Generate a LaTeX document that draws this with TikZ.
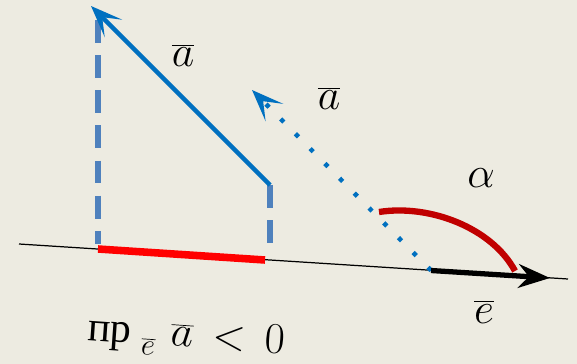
\documentclass[tikz,border=0pt]{standalone}
\usepackage{fontspec}
\newfontfamily\cyrfont{Liberation Serif}
\usetikzlibrary{arrows.meta}
\definecolor{cBg}{HTML}{EDEBE1}
\definecolor{cVec}{HTML}{0070C0}
\definecolor{cProj}{HTML}{4F81BD}
\definecolor{cArc}{HTML}{C00000}
\definecolor{cSeg}{HTML}{FF0000}
\tikzset{
  lbl/.style={font=\fontsize{26}{28}\selectfont,inner sep=0pt},
  axis/.style={line width=0.7pt},
  vec/.style={draw=cVec,line width=2.6pt,-{Stealth[length=18pt,width=14pt,inset=9pt]}},
  vecdot/.style={vec,dash pattern=on 2.5pt off 9.4pt},
  evec/.style={line width=3pt,-{Stealth[length=18pt,width=13.5pt,inset=6pt]}},
  projline/.style={draw=cProj,line width=3pt,dash pattern=on 13pt off 7pt},
  projseg/.style={draw=cSeg,line width=4.3pt},
  angarc/.style={draw=cArc,line width=3.6pt}}
\begin{document}
\begin{tikzpicture}[x=0.02cm,y=-0.02cm]
\path[use as bounding box,fill=cBg] (0,0) rectangle (577,364);
\coordinate (ax0) at (19,244);
\coordinate (ax1) at (568,279);
\coordinate (o) at (431,270.5);
\coordinate (etip) at (550,278);
\coordinate (atail) at (270,185);
\coordinate (ahead) at (91,6);
\coordinate (bhead) at (252,90);
\coordinate (ptop) at (98,20);
\coordinate (pbot) at (98,244);
\coordinate (qbot) at (270,252);
\coordinate (s0) at (98,249);
\coordinate (s1) at (265,260);
\coordinate (arc0) at (379,212);
\coordinate (arc1) at (515,271);
\draw[axis] (ax0) -- (ax1);
\draw[projline] (ptop) -- (pbot);
\draw[projline] (atail) -- (qbot);
\draw[projseg] (s0) -- (s1);
\draw[angarc] (arc0) .. controls (430,204) and (492,228) .. (arc1);
\draw[vec] (atail) -- (ahead);
\draw[vecdot] (o) -- (bhead);
\draw[evec] (o) -- (etip);
\node[lbl,anchor=base] (alab) at (183,67) {$\overline{a}$};
\node[lbl,anchor=base] (blab) at (329,110) {$\overline{a}$};
\node[lbl,anchor=base] (alpha) at (481,188) {$\alpha$};
\node[lbl,anchor=base] (elab) at (484,323) {$\overline{e}$};
\node[lbl,font=\fontsize{24}{26}\selectfont,anchor=base west,rotate=-4] (proj) at (87,340)
  {$\mbox{\cyrfont пр}_{\hspace{6pt}\mbox{\fontsize{18}{20}\selectfont$\overline{e}$}}\hspace{8pt}\overline{a}\hspace{4pt} < \hspace{4pt}0$};
\end{tikzpicture}
\end{document}
